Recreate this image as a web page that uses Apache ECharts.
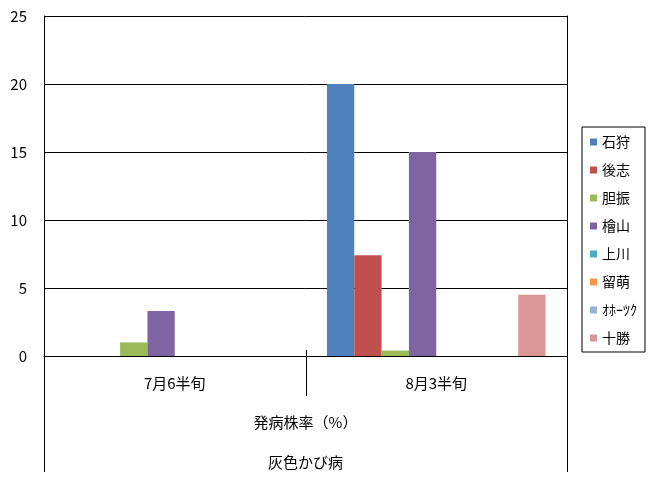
<!DOCTYPE html>
<html><head><meta charset="utf-8">
<script src="https://cdn.jsdelivr.net/npm/echarts@6/dist/echarts.min.js"></script>
<style>html,body{margin:0;padding:0;background:#fff}#c{width:663px;height:481px}</style>
</head><body><div id="c"></div>
<script>
const categories = ['7月6半旬', '8月3半旬'];
const seriesNames = ['石狩', '後志', '胆振', '檜山', '上川', '留萌', 'ｵﾎｰﾂｸ', '十勝'];
const ishikari   = [0, 20];
const shiribeshi = [0, 7.4];
const iburi      = [1.0, 0.4];
const hiyama     = [3.3, 15];
const kamikawa   = [0, 0];
const rumoi      = [0, 0];
const okhotsk    = [0, 0];
const tokachi    = [0, 4.5];
const seriesValues = [ishikari, shiribeshi, iburi, hiyama, kamikawa, rumoi, okhotsk, tokachi];
const colors = ['#4F81BD', '#C0504D', '#9BBB59', '#8064A2', '#4BACC6', '#F79646', '#95B3D7', '#D99694'];
const yMin = 0, yMax = 25, yStep = 5;
const axisTitle = '発病株率（%）';
const subTitle = '灰色かび病';

const FONT = '"MS PGothic","Noto Sans CJK JP",sans-serif';
const G = {left: 44, top: 16, width: 523, height: 340};
const chart = echarts.init(document.getElementById('c'), null, {renderer: 'canvas'});
const bottomY = G.top + G.height;
const midX = G.left + G.width / 2;
const lineStyle = {stroke: '#000', lineWidth: 1};
chart.setOption({
  animation: false,
  backgroundColor: '#fff',
  color: colors,
  textStyle: {fontFamily: FONT},
  grid: {left: G.left, top: G.top, width: G.width, height: G.height, containLabel: false},
  legend: {
    orient: 'vertical', left: 582, top: 127,
    borderColor: '#000', borderWidth: 1,
    padding: [8, 8, 7, 8],
    itemWidth: 7, itemHeight: 7, itemGap: 14, itemTextGap: 6,
    icon: 'rect',
    textStyle: {fontSize: 14, color: '#000', fontFamily: FONT, lineHeight: 14},
    data: seriesNames
  },
  xAxis: {
    type: 'category', data: categories,
    axisLine: {lineStyle: {color: '#000', width: 1}},
    axisTick: {show: false},
    axisLabel: {color: '#000', fontSize: 15, margin: 20, fontFamily: FONT},
    name: axisTitle, nameLocation: 'middle', nameGap: 59,
    nameTextStyle: {color: '#000', fontSize: 15, fontFamily: FONT}
  },
  yAxis: [{
    type: 'value', min: yMin, max: yMax, interval: yStep,
    axisLine: {show: true, lineStyle: {color: '#000', width: 1}},
    axisTick: {show: false},
    splitLine: {lineStyle: {color: '#000', width: 1}},
    axisLabel: {color: '#000', fontSize: 15, margin: 17, fontFamily: FONT}
  }, {
    type: 'value', min: yMin, max: yMax, interval: yStep, position: 'right',
    axisLine: {show: true, lineStyle: {color: '#000', width: 1}},
    axisTick: {show: false}, axisLabel: {show: false}, splitLine: {show: false}
  }],
  series: seriesNames.map((n, i) => ({
    name: n, type: 'bar', data: seriesValues[i],
    barGap: '0%', barCategoryGap: '16.4%',
    itemStyle: {color: colors[i]}
  })),
  graphic: [
    {type: 'line', shape: {x1: G.left + 0.5, y1: bottomY, x2: G.left + 0.5, y2: 472}, style: lineStyle, silent: true},
    {type: 'line', shape: {x1: G.left + G.width + 0.5, y1: bottomY, x2: G.left + G.width + 0.5, y2: 472}, style: lineStyle, silent: true},
    {type: 'line', shape: {x1: Math.round(midX) + 0.5, y1: bottomY - 6, x2: Math.round(midX) + 0.5, y2: bottomY + 40}, style: lineStyle, silent: true},
    {type: 'text', x: midX, y: 462, style: {text: subTitle, fill: '#000', font: '15px ' + FONT, textAlign: 'center', textVerticalAlign: 'middle'}, silent: true}
  ]
});
</script></body></html>
